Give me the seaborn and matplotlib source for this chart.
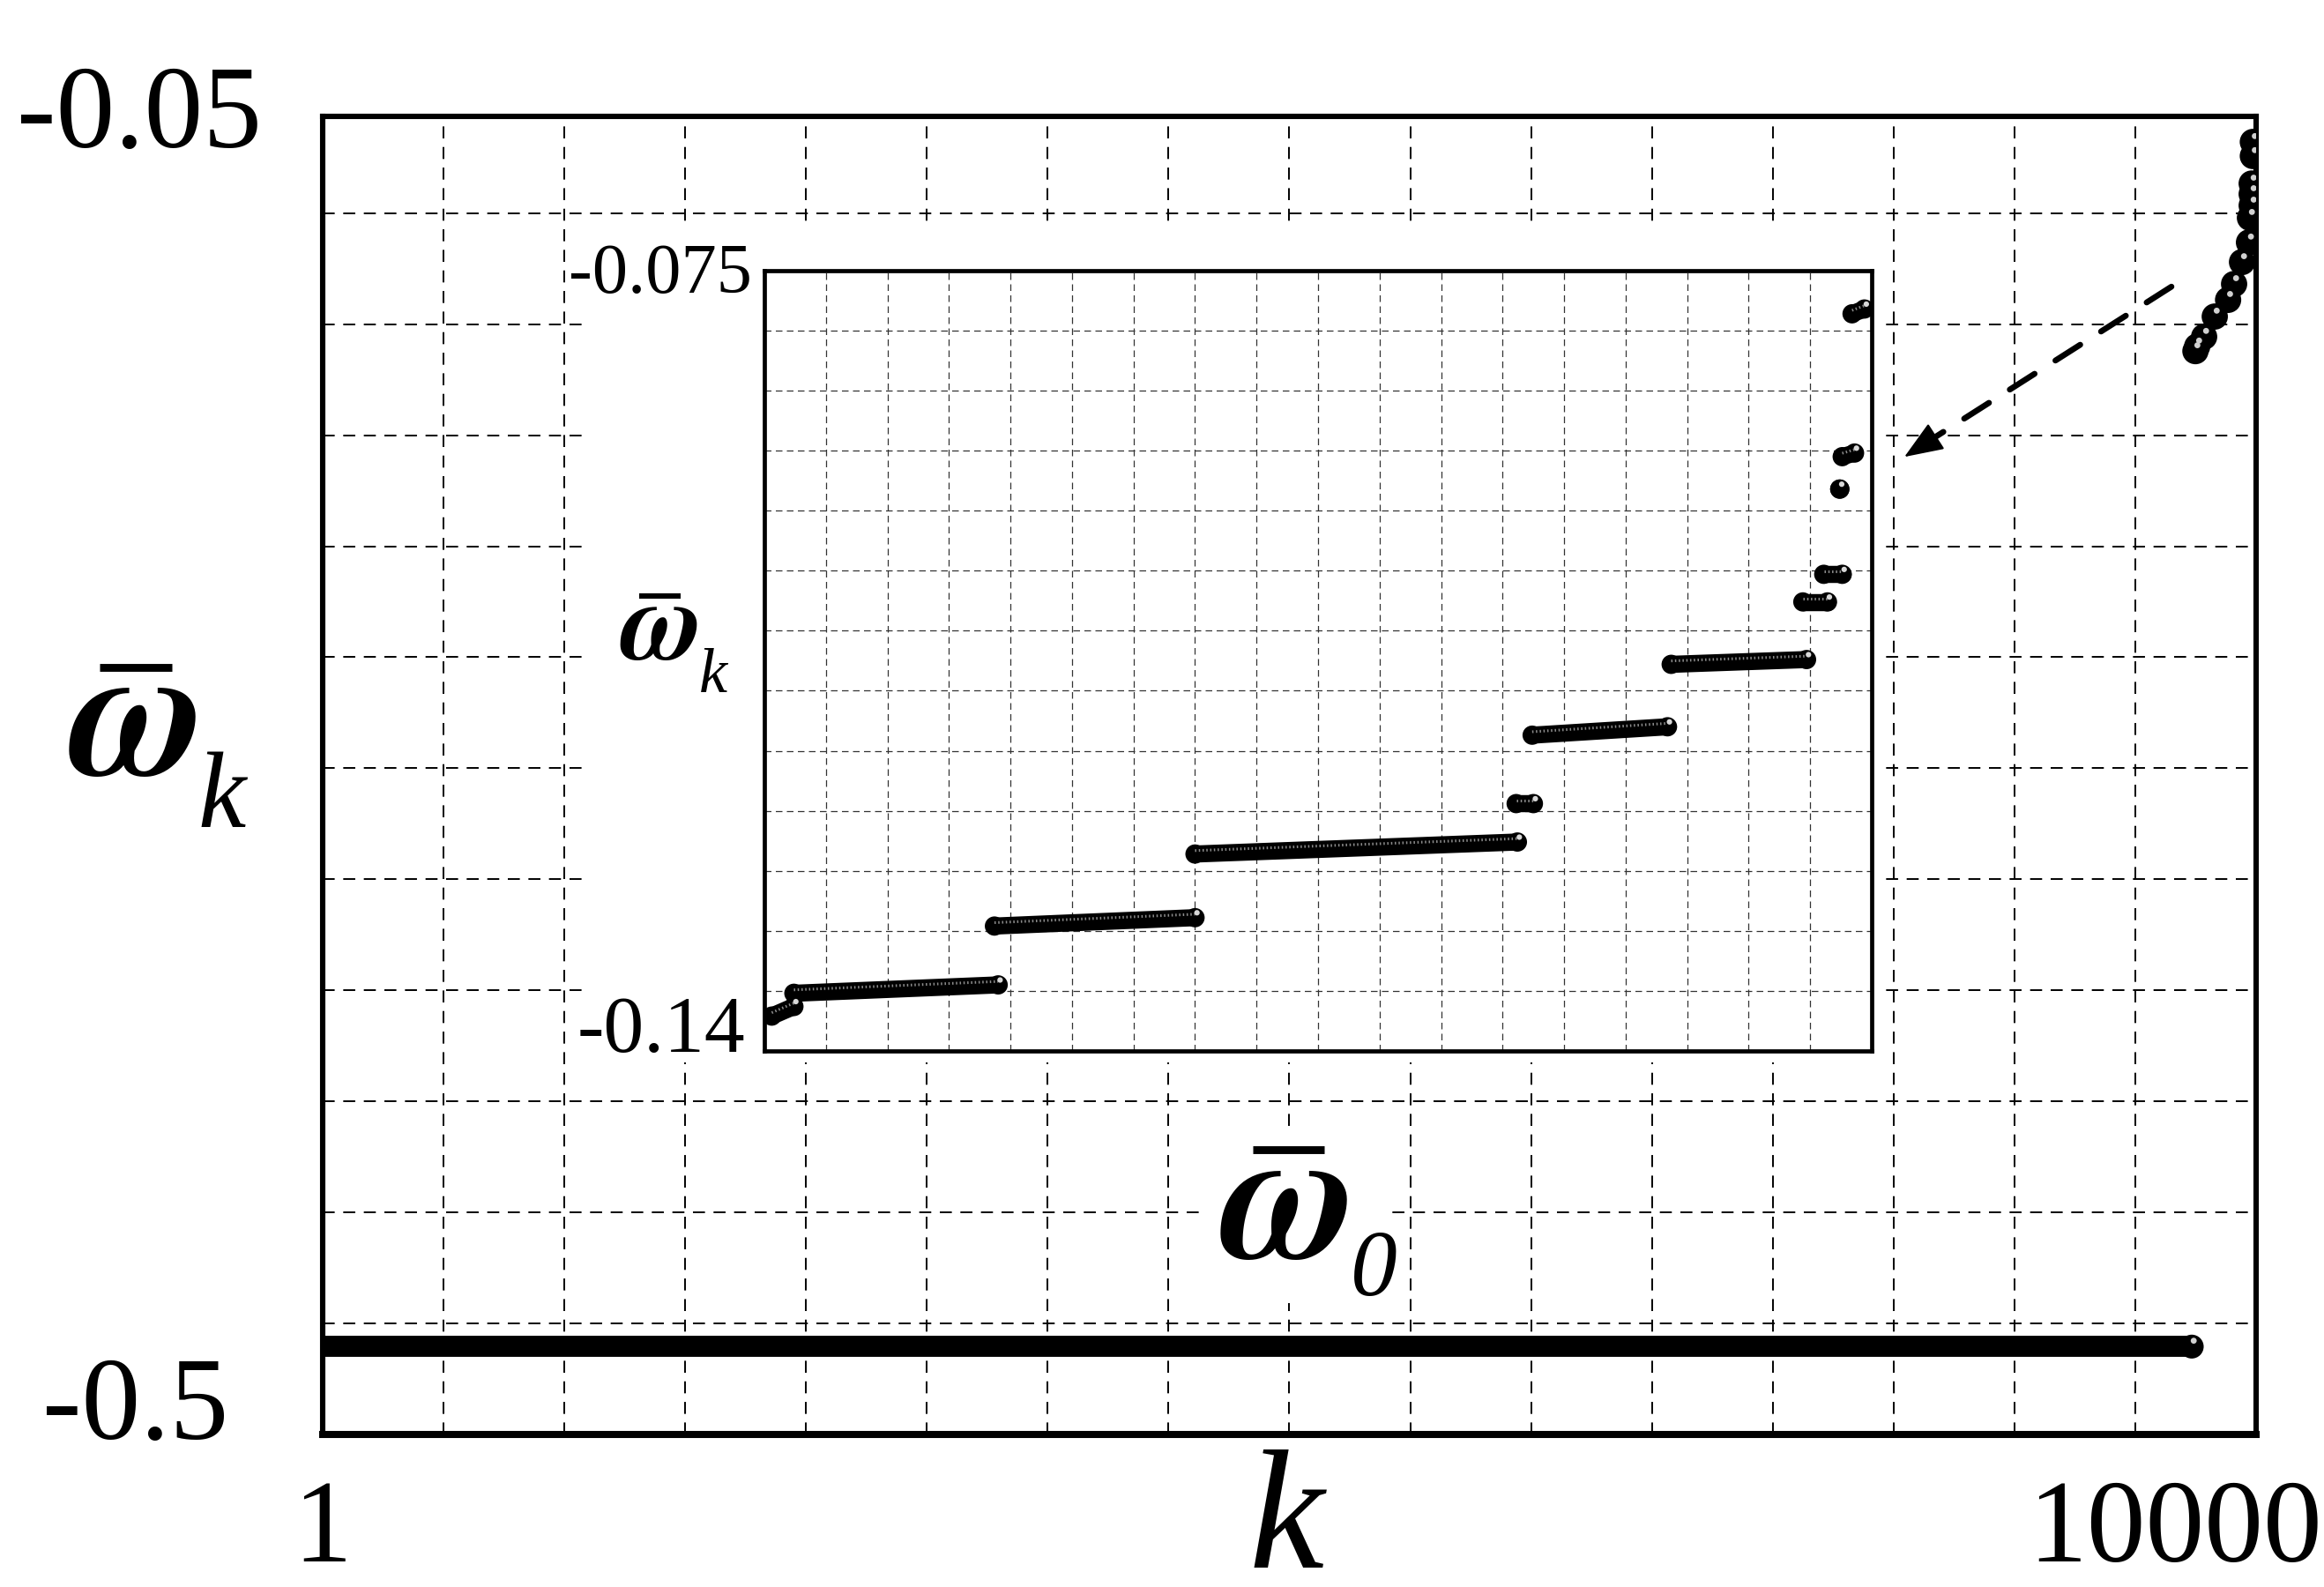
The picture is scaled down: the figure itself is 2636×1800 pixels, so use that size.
import numpy as np
import pandas as pd
import matplotlib

matplotlib.use("Agg")
import matplotlib.pyplot as plt
import seaborn as sns
from matplotlib import transforms
from matplotlib.lines import Line2D
from matplotlib.patches import Rectangle

# main plot: w_k against k
band_k = [1, 9667]
band_w = [-0.470, -0.470]

tail_k = [9983, 9983, 9977, 9977, 9977, 9968, 9963, 9927, 9886, 9855, 9786, 9731, 9695, 9686]
tail_w = [-0.0588, -0.0636, -0.0730, -0.0766, -0.0805, -0.0847, -0.0931, -0.0998,
          -0.1073, -0.1127, -0.1184, -0.1253, -0.1286, -0.1302]

# arrow from the tail to the inset (start, head base, tip)
arrow_k = [9562, 8315, 8181]
arrow_w = [-0.1082, -0.1606, -0.1663]

# inset: w_k against w_0, plateaus given by their two ends
seg_x0 = [0.006, 0.024, 0.187, 0.350, 0.611, 0.624, 0.737, 0.844, 0.861, 0.874, 0.876, 0.884]
seg_x1 = [0.024, 0.190, 0.350, 0.612, 0.625, 0.734, 0.847, 0.864, 0.876, 0.874, 0.886, 0.894]
seg_y0 = [-0.1371, -0.1352, -0.1296, -0.1236, -0.1194, -0.1137, -0.1078, -0.1026,
          -0.1003, -0.0932, -0.0905, -0.0786]
seg_y1 = [-0.1363, -0.1345, -0.1289, -0.1226, -0.1194, -0.1130, -0.1074, -0.1026,
          -0.1003, -0.0932, -0.0902, -0.0782]

sns.set_style("white")
plt.rcParams["font.family"] = ["Liberation Serif", "DejaVu Serif"]
plt.rcParams["text.color"] = "k"
# maths in Times-like faces: bold italic omega, italic index
plt.rcParams["mathtext.fontset"] = "custom"
plt.rcParams["mathtext.rm"] = "Liberation Serif:italic"
plt.rcParams["mathtext.it"] = "Liberation Serif:italic"
plt.rcParams["mathtext.bf"] = "STIXGeneral:bold:italic"

fig = plt.figure(figsize=(13.18, 9.0), dpi=200)
ax = fig.add_axes([0.1388, 0.0961, 0.8320, 0.8307])

# main axes frame and grid
ax.set_xlim(1, 10000)
ax.set_ylim(-0.5, -0.05)
ax.set_xticks(np.linspace(1, 10000, 17))
ax.set_yticks([-0.5 + 0.0379 * n for n in range(12)])
ax.grid(True, color="k", linewidth=0.7, linestyle=(0, (7, 5)))
ax.tick_params(length=0, labelbottom=False, labelleft=False)
for name, sp in ax.spines.items():
    sp.set_visible(True)
    sp.set_color("k")
    sp.set_linewidth(2.9 if name == "bottom" else 2.2)

# the long flat band and the tail at the right end
sns.lineplot(x=band_k, y=band_w, ax=ax, color="k", linewidth=8.6,
             solid_capstyle="round", zorder=3)
sns.scatterplot(x=band_k[-1:], y=band_w[-1:], ax=ax, s=95, color="k",
                edgecolor="none", zorder=4)
sns.scatterplot(x=tail_k, y=tail_w, ax=ax, s=115, color="k", edgecolor="none", zorder=4)

shine = transforms.offset_copy(ax.transData, fig=fig, x=0.8, y=2.4, units="points")
sns.scatterplot(x=tail_k + band_k[-1:], y=tail_w + band_w[-1:], ax=ax, s=6,
                color="#d0d0d0", edgecolor="none", zorder=5, transform=shine)

# dashed arrow
ax.plot(arrow_k[:2], arrow_w[:2], color="k", linewidth=2.4,
        linestyle=(0, (5, 4.2)), dash_capstyle="round", zorder=3)
ax.annotate("", xy=(arrow_k[2], arrow_w[2]), xytext=(arrow_k[1], arrow_w[1]),
            arrowprops=dict(arrowstyle="-|>,head_length=14,head_width=5.5",
                            mutation_scale=1, color="k", lw=0.8,
                            shrinkA=0, shrinkB=0), zorder=3)

# white area behind the inset and its labels
fig.add_artist(Rectangle((0.2504, 0.3306), 0.5577, 0.525, transform=fig.transFigure,
                         facecolor="white", edgecolor="none", zorder=1))
fig.add_artist(Rectangle((0.5178, 0.1789), 0.0785, 0.1083, transform=fig.transFigure,
                         facecolor="white", edgecolor="none", zorder=1))

# inset
axin = fig.add_axes([0.3289, 0.3378, 0.4765, 0.4917])
axin.set_zorder(2)
axin.set_facecolor("white")
axin.set_xlim(0, 0.9)
axin.set_ylim(-0.14, -0.075)
axin.set_xticks(np.arange(0, 0.9 + 1e-9, 0.05))
axin.set_yticks(np.arange(-0.14, -0.075 + 1e-9, 0.005))
axin.grid(True, color="#333333", linewidth=0.45, linestyle=(0, (6, 4)))
axin.tick_params(length=0, labelbottom=False, labelleft=False)
for sp in axin.spines.values():
    sp.set_visible(True)
    sp.set_color("k")
    sp.set_linewidth(1.7)

segs = pd.DataFrame({
    "seg": list(range(len(seg_x0))) * 2,
    "w0": seg_x0 + seg_x1,
    "wk": seg_y0 + seg_y1,
})
sns.lineplot(data=segs, x="w0", y="wk", units="seg", estimator=None, sort=False,
             ax=axin, color="k", linewidth=7.0, solid_capstyle="round", zorder=3)
sns.scatterplot(data=segs, x="w0", y="wk", ax=axin, s=62, color="k",
                edgecolor="none", zorder=4)
ribs = transforms.offset_copy(axin.transData, fig=fig, x=0, y=1.4, units="points")
sns.lineplot(data=segs, x="w0", y="wk", units="seg", estimator=None, sort=False,
             ax=axin, color="#8a8a8a", linewidth=1.1, linestyle=(0, (0.5, 0.9)),
             zorder=5, transform=ribs)
shine_in = transforms.offset_copy(axin.transData, fig=fig, x=0.8, y=2.0, units="points")
sns.scatterplot(x=seg_x1, y=seg_y1, ax=axin, s=5, color="#d8d8d8",
                edgecolor="none", zorder=6, transform=shine_in)
axin.set_xlabel("")
axin.set_ylabel("")
ax.set_xlabel("")
ax.set_ylabel("")

# tick texts
fig.text(0.0599, 0.9072, "-0.05", fontsize=48, ha="center", va="baseline")
fig.text(0.0584, 0.0933, "-0.5", fontsize=48, ha="center", va="baseline")
fig.text(0.1388, 0.0161, "1", fontsize=48, ha="center", va="baseline")
fig.text(0.9359, 0.0161, "10000", fontsize=48, ha="center", va="baseline")
fig.text(0.3236, 0.8156, "-0.075", fontsize=29, ha="right", va="baseline", zorder=4)
fig.text(0.3206, 0.3372, "-0.14", fontsize=33, ha="right", va="baseline", zorder=4)

# axis titles: omega with its index set lower, and a bar above
fig.text(0.5543, 0.012, r"$k$", fontsize=69, ha="center", va="baseline")

title_parts = [
    # (x, y, text, size)
    (0.0296, 0.5122, r"$\mathbf{\omega}$", 76),
    (0.0850, 0.4789, r"$k$", 44),
    (0.2667, 0.5850, r"$\mathbf{\omega}$", 46),
    (0.3005, 0.5639, r"$k$", 26),
    (0.5250, 0.2078, r"$\mathbf{\omega}$", 76),
    (0.5808, 0.1839, r"$0$", 38),
]
for x, y, s, size in title_parts:
    fig.text(x, y, s, fontsize=size, ha="left", va="baseline", zorder=4)

for x0, x1, y, w in [(0.0429, 0.0740, 0.5797, 3.2),
                     (0.2750, 0.2929, 0.6244, 2.2),
                     (0.5391, 0.5698, 0.2753, 3.2)]:
    fig.add_artist(Line2D([x0, x1], [y, y], transform=fig.transFigure, color="k",
                          linewidth=w, solid_capstyle="butt", zorder=4))

fig.savefig("out.png", dpi=200)
